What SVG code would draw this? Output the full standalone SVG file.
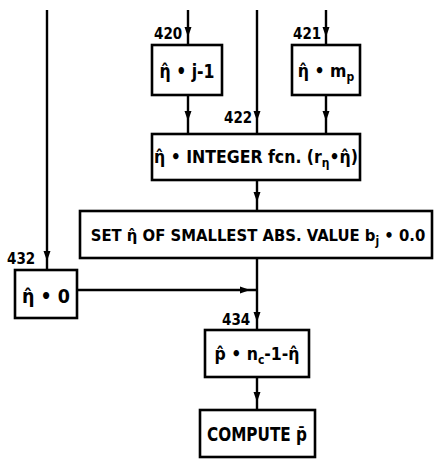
<svg xmlns="http://www.w3.org/2000/svg" xmlns:xlink="http://www.w3.org/1999/xlink" width="434" height="459" viewBox="0 0 434 459">
<style>
.box{fill:#fff;stroke:#000;stroke-width:2.6}
.ln{fill:none;stroke:#000;stroke-width:2.4}
.t{font-family:"DejaVu Sans Condensed","DejaVu Sans",sans-serif;font-weight:bold;font-size:19px;fill:#000;text-anchor:middle}
.s{font-size:17.5px}
.lb{font-family:"DejaVu Sans Condensed","DejaVu Sans",sans-serif;font-weight:bold;font-size:15px;fill:#000}
.sub{font-size:12px}
</style>
<defs>
<path id="ah" d="M-3.5,-7 L3.5,-7 L0,3 Z" fill="#000"/>
<path id="ar" d="M-7,-3.5 L-7,3.5 L3,0 Z" fill="#000"/>
</defs>
<rect width="434" height="459" fill="#fff"/>
<g id="connectors">
<path class="ln" d="M47 10 V270"/>
<use xlink:href="#ah" x="47" y="258"/>
<path class="ln" d="M188 10 V45 M188 95 V134"/>
<use xlink:href="#ah" x="188" y="34"/>
<use xlink:href="#ah" x="188" y="118"/>
<path class="ln" d="M257 10 V134 M257 180 V211 M257 258 V330 M257 377 V410"/>
<use xlink:href="#ah" x="257" y="118"/>
<use xlink:href="#ah" x="257" y="199"/>
<use xlink:href="#ah" x="257" y="319"/>
<use xlink:href="#ah" x="257" y="399"/>
<path class="ln" d="M326 10 V45 M326 95 V134"/>
<use xlink:href="#ah" x="326" y="34"/>
<use xlink:href="#ah" x="326" y="118"/>
<path class="ln" d="M77 290 H257"/>
<use xlink:href="#ar" x="247" y="290"/>
</g>
<g id="n420">
<rect class="box" x="152" y="45" width="70" height="50"/>
<text class="t" x="187" y="78" textLength="55" lengthAdjust="spacingAndGlyphs">η̂ • j-1</text>
<text class="lb" x="154" y="39">420</text>
</g>
<g id="n421">
<rect class="box" x="292" y="45" width="68" height="50"/>
<text class="t s" x="326" y="77">η̂ • m<tspan class="sub" dy="4">p</tspan></text>
<text class="lb" x="293" y="39">421</text>
</g>
<g id="n422">
<rect class="box" x="152" y="134" width="208" height="46"/>
<text class="t s" x="256" y="163">η̂ • INTEGER fcn. (r<tspan class="sub" dy="4">η</tspan><tspan dy="-4">•η̂)</tspan></text>
<text class="lb" x="224" y="123">422</text>
</g>
<g id="nset">
<rect class="box" x="80" y="211" width="352" height="47"/>
<text class="t" style="font-size:16.5px" x="258" y="241">SET η̂ OF SMALLEST ABS. VALUE b<tspan class="sub" dy="4">j</tspan><tspan dy="-4"> • 0.0</tspan></text>
</g>
<g id="n432">
<rect class="box" x="15" y="270" width="62" height="48"/>
<text class="t" x="46" y="303" textLength="48" lengthAdjust="spacingAndGlyphs">η̂ • 0</text>
<text class="lb" x="7" y="264">432</text>
</g>
<g id="n434">
<rect class="box" x="205" y="330" width="104" height="47"/>
<text class="t s" x="257" y="360">p̂ • n<tspan class="sub" dy="4">c</tspan><tspan dy="-4">-1-η̂</tspan></text>
<text class="lb" x="222" y="325">434</text>
</g>
<g id="ncompute">
<rect class="box" x="200" y="410" width="115" height="47"/>
<text class="t" x="257" y="441" textLength="100" lengthAdjust="spacingAndGlyphs">COMPUTE  p̄</text>
</g>
</svg>
